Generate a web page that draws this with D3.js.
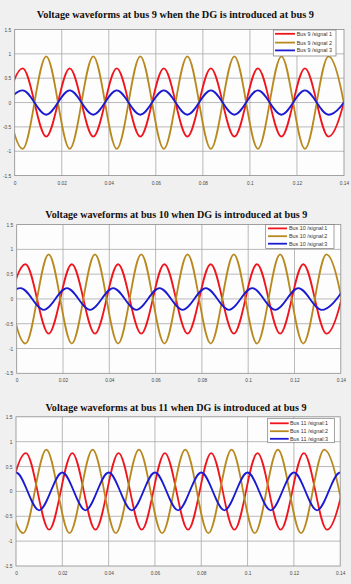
<!DOCTYPE html>
<html>
<head>
<meta charset="utf-8">
<script src="https://cdn.jsdelivr.net/npm/d3@7"></script>
<style>
  body { margin: 0; background: #f0f0f0; }
  svg { display: block; }
</style>
</head>
<body>
<div id="chart"></div>
<script>
'use strict';

// ---- data ----
// each trace is given by its peaks/troughs (time, value); d3.curveMonotoneX joins them
const xTicks = [0, 0.02, 0.04, 0.06, 0.08, 0.1, 0.12, 0.14];
const yTicks = [-1.5, -1, -0.5, 0, 0.5, 1, 1.5];

const titles = [
    'Voltage waveforms at bus 9 when the DG is introduced at bus 9',
    'Voltage waveforms at bus 10 when DG is introduced at bus 9',
    'Voltage waveforms at bus 11 when DG is introduced at bus 9'
];

const bus9Labels = ['Bus 9 /signal 1', 'Bus 9 /signal 2', 'Bus 9 /signal 3'];
const bus10Labels = ['Bus 10 /signal:1', 'Bus 10 /signal:2', 'Bus 10 /signal:3'];
const bus11Labels = ['Bus 11 /signal:1', 'Bus 11 /signal:2', 'Bus 11 /signal:3'];

// bus 9
const bus9Time = [-0.0066, 0.0034, 0.0134, 0.0234, 0.0334, 0.0434, 0.0534, 0.0634,
    0.0734, 0.0834, 0.0934, 0.1034, 0.1134, 0.1234, 0.1334, 0.1434];
const bus9Signal1 = [-0.70, 0.70, -0.70, 0.70, -0.70, 0.70, -0.70, 0.70,
    -0.70, 0.70, -0.70, 0.70, -0.70, 0.70, -0.70, 0.70];
const bus9Signal2 = [0.95, -0.95, 0.95, -0.95, 0.95, -0.95, 0.95, -0.95,
    0.95, -0.95, 0.95, -0.95, 0.95, -0.95, 0.95, -0.95];
const bus9Signal3 = [-0.25, 0.25, -0.25, 0.25, -0.25, 0.25, -0.25, 0.25,
    -0.25, 0.25, -0.25, 0.25, -0.25, 0.25, -0.25, 0.25];

// bus 10
const bus10Time12 = [-0.0062, 0.0038, 0.0138, 0.0238, 0.0338, 0.0438, 0.0538, 0.0638,
    0.0738, 0.0838, 0.0938, 0.1038, 0.1138, 0.1238, 0.1338, 0.1438];
const bus10Time3 = [-0.0083, 0.0017, 0.0117, 0.0217, 0.0317, 0.0417, 0.0517, 0.0617,
    0.0717, 0.0817, 0.0917, 0.1017, 0.1117, 0.1217, 0.1317, 0.1417];
const bus10Signal1 = [-0.70, 0.70, -0.70, 0.70, -0.70, 0.70, -0.70, 0.70,
    -0.70, 0.70, -0.70, 0.70, -0.70, 0.70, -0.70, 0.70];
const bus10Signal2 = [0.90, -0.90, 0.90, -0.90, 0.90, -0.90, 0.90, -0.90,
    0.90, -0.90, 0.90, -0.90, 0.90, -0.90, 0.90, -0.90];
const bus10Signal3 = [-0.22, 0.22, -0.22, 0.22, -0.22, 0.22, -0.22, 0.22,
    -0.22, 0.22, -0.22, 0.22, -0.22, 0.22, -0.22, 0.22];

// bus 11
const bus11Time1 = [-0.0057, 0.0043, 0.0143, 0.0243, 0.0343, 0.0443, 0.0543, 0.0643,
    0.0743, 0.0843, 0.0943, 0.1043, 0.1143, 0.1243, 0.1343, 0.1443];
const bus11Time2 = [-0.0069, 0.0031, 0.0131, 0.0231, 0.0331, 0.0431, 0.0531, 0.0631,
    0.0731, 0.0831, 0.0931, 0.1031, 0.1131, 0.1231, 0.1331, 0.1431];
const bus11Time3 = [-0.01, 0, 0.01, 0.02, 0.03, 0.04, 0.05, 0.06, 0.07,
    0.08, 0.09, 0.1, 0.11, 0.12, 0.13, 0.14, 0.15];
const bus11Signal1 = [-0.77, 0.77, -0.77, 0.77, -0.77, 0.77, -0.77, 0.77,
    -0.77, 0.77, -0.77, 0.77, -0.77, 0.77, -0.77, 0.77];
const bus11Signal2 = [0.84, -0.84, 0.84, -0.84, 0.84, -0.84, 0.84, -0.84,
    0.84, -0.84, 0.84, -0.84, 0.84, -0.84, 0.84, -0.84];
const bus11Signal3 = [-0.38, 0.38, -0.38, 0.38, -0.38, 0.38, -0.38, 0.38, -0.38,
    0.38, -0.38, 0.38, -0.38, 0.38, -0.38, 0.38, -0.38];

// ---- styling / layout ----
const colors = ['#f0141c', '#b8891e', '#1a1ad2'];
const W = 351, H = 584;

const panels = [
    {
        title: titles[0], labels: bus9Labels,
        series: [[bus9Time, bus9Signal1], [bus9Time, bus9Signal2], [bus9Time, bus9Signal3]],
        box: { left: 14.7, right: 344, top: 29.5, bottom: 175.6 },
        titleY: 17.5, titleW: 277,
        legend: { x: 273.3, y: 30, w: 62.7, h: 26, rows: [33.8, 42.6, 50.4], line: [275, 295], text: 296.7 }
    },
    {
        title: titles[1], labels: bus10Labels,
        series: [[bus10Time12, bus10Signal1], [bus10Time12, bus10Signal2], [bus10Time3, bus10Signal3]],
        box: { left: 16.7, right: 340.8, top: 224.6, bottom: 373.3 },
        titleY: 217.6, titleW: 262,
        legend: { x: 265.7, y: 224.6, w: 68.3, h: 23.8, rows: [228.4, 236.2, 243.7], line: [268, 287], text: 289 }
    },
    {
        title: titles[2], labels: bus11Labels,
        series: [[bus11Time1, bus11Signal1], [bus11Time2, bus11Signal2], [bus11Time3, bus11Signal3]],
        box: { left: 16, right: 340.2, top: 416.8, bottom: 566 },
        titleY: 410.8, titleW: 261,
        legend: { x: 267.7, y: 418.3, w: 66.6, h: 24.4, rows: [423.3, 431.2, 438.8], line: [270, 288.7], text: 290 }
    }
];

const svg = d3.select('#chart')
    .append('svg')
    .attr('width', W)
    .attr('height', H);

svg.append('rect')
    .attr('width', W)
    .attr('height', H)
    .attr('fill', '#f0f0f0');

panels.forEach((p, i) => {
    const b = p.box;
    const g = svg.append('g');

    const x = d3.scaleLinear().domain([0, 0.14]).range([b.left, b.right]);
    const y = d3.scaleLinear().domain([-1.5, 1.5]).range([b.bottom, b.top]);

    // plot background
    g.append('rect')
        .attr('x', b.left).attr('y', b.top)
        .attr('width', b.right - b.left).attr('height', b.bottom - b.top)
        .attr('fill', '#fdfdfd');

    // grid
    g.append('g').selectAll('line')
        .data(xTicks.slice(1, -1))
        .join('line')
        .attr('x1', d => x(d)).attr('x2', d => x(d))
        .attr('y1', b.top).attr('y2', b.bottom)
        .attr('stroke', '#a8a8a8').attr('stroke-width', 0.8);

    g.append('g').selectAll('line')
        .data(yTicks.slice(1, -1))
        .join('line')
        .attr('x1', b.left).attr('x2', b.right)
        .attr('y1', d => y(d)).attr('y2', d => y(d))
        .attr('stroke', '#a8a8a8').attr('stroke-width', 0.8);

    // traces
    const clipId = 'clip' + i;
    g.append('clipPath').attr('id', clipId)
        .append('rect')
        .attr('x', b.left).attr('y', b.top)
        .attr('width', b.right - b.left).attr('height', b.bottom - b.top);

    const line = d3.line()
        .x(d => x(d[0]))
        .y(d => y(d[1]))
        .curve(d3.curveMonotoneX);

    g.append('g')
        .attr('clip-path', `url(#${clipId})`)
        .selectAll('path')
        .data(p.series)
        .join('path')
        .attr('d', s => line(d3.zip(s[0], s[1])))
        .attr('fill', 'none')
        .attr('stroke', (s, k) => colors[k])
        .attr('stroke-width', 1.8);

    // frame
    g.append('rect')
        .attr('x', b.left).attr('y', b.top)
        .attr('width', b.right - b.left).attr('height', b.bottom - b.top)
        .attr('fill', 'none')
        .attr('stroke', '#8c8c8c').attr('stroke-width', 0.8);

    // axes (labels only, MATLAB style)
    const xAxis = g.append('g')
        .attr('transform', `translate(0,${b.bottom})`)
        .call(d3.axisBottom(x).tickValues(xTicks).tickSize(0).tickPadding(5.5)
            .tickFormat(d => String(d)));
    const yAxis = g.append('g')
        .attr('transform', `translate(${b.left},0)`)
        .call(d3.axisLeft(y).tickValues(yTicks).tickSize(0).tickPadding(3.5)
            .tickFormat(d => String(d)));

    [xAxis, yAxis].forEach(a => {
        a.select('.domain').remove();
        a.selectAll('text')
            .attr('fill', '#4a4a4a')
            .style('font-family', '"Liberation Sans", Arial, sans-serif')
            .style('font-size', '4.8px');
    });

    // title
    g.append('text')
        .attr('x', W / 2 + (b.left - 15) / 2)
        .attr('y', p.titleY)
        .attr('text-anchor', 'middle')
        .attr('textLength', p.titleW)
        .attr('lengthAdjust', 'spacingAndGlyphs')
        .style('font-family', '"Liberation Serif", "Times New Roman", serif')
        .style('font-weight', 'bold')
        .style('font-size', '10.5px')
        .attr('fill', '#111')
        .text(p.title);

    // legend
    const L = p.legend;
    g.append('rect')
        .attr('x', L.x).attr('y', L.y)
        .attr('width', L.w).attr('height', L.h)
        .attr('fill', '#ffffff')
        .attr('stroke', '#7a7a7a').attr('stroke-width', 0.7);

    const rows = g.append('g').selectAll('g')
        .data(p.labels)
        .join('g');

    rows.append('line')
        .attr('x1', L.line[0]).attr('x2', L.line[1])
        .attr('y1', (d, k) => L.rows[k]).attr('y2', (d, k) => L.rows[k])
        .attr('stroke', (d, k) => colors[k])
        .attr('stroke-width', 1.8);

    rows.append('text')
        .attr('x', L.text)
        .attr('y', (d, k) => L.rows[k] + 1.9)
        .attr('fill', '#333')
        .style('font-family', '"Liberation Sans", Arial, sans-serif')
        .style('font-size', '5.4px')
        .text(d => d);
});
</script>
</body>
</html>
